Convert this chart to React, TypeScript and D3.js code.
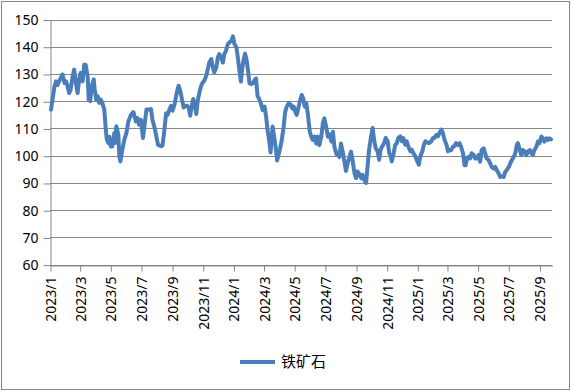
import React, { useEffect, useRef } from "react";
import * as d3 from "d3";

const seriesName = "铁矿石";

const dates2023 = [
  "2023-01-03", "2023-01-06", "2023-01-10", "2023-01-13", "2023-01-16", "2023-01-19", "2023-01-26", "2023-01-30",
  "2023-02-02", "2023-02-05", "2023-02-08", "2023-02-11", "2023-02-15", "2023-02-18", "2023-02-21", "2023-02-25",
  "2023-02-28", "2023-03-03", "2023-03-07", "2023-03-10", "2023-03-13", "2023-03-17", "2023-03-19", "2023-03-22",
  "2023-03-25", "2023-03-29", "2023-03-31", "2023-04-03", "2023-04-06", "2023-04-09", "2023-04-12", "2023-04-15",
  "2023-04-19", "2023-04-22", "2023-04-24", "2023-04-27", "2023-04-29", "2023-05-02", "2023-05-05", "2023-05-09",
  "2023-05-11", "2023-05-13", "2023-05-17", "2023-05-19", "2023-05-21", "2023-05-25", "2023-05-29", "2023-06-02",
  "2023-06-06", "2023-06-11", "2023-06-16", "2023-06-21", "2023-06-24", "2023-06-27", "2023-07-01", "2023-07-05",
  "2023-07-09", "2023-07-12", "2023-07-17", "2023-07-21", "2023-07-24", "2023-07-28", "2023-08-04", "2023-08-10",
  "2023-08-13", "2023-08-17", "2023-08-20", "2023-08-23", "2023-08-27", "2023-08-30", "2023-09-02", "2023-09-06",
  "2023-09-09", "2023-09-12", "2023-09-14", "2023-09-18", "2023-09-21", "2023-09-24", "2023-09-28", "2023-10-01",
  "2023-10-04", "2023-10-07", "2023-10-10", "2023-10-13", "2023-10-16", "2023-10-19", "2023-10-22", "2023-10-26",
  "2023-10-29", "2023-11-01", "2023-11-04", "2023-11-08", "2023-11-11", "2023-11-14", "2023-11-18", "2023-11-21",
  "2023-11-24", "2023-11-28", "2023-12-01", "2023-12-04", "2023-12-07", "2023-12-11", "2023-12-14", "2023-12-17",
  "2023-12-21", "2023-12-24", "2023-12-28", "2023-12-31",
];
const prices2023 = [
  116.9, 120.6, 125.5, 127.3, 126, 127.3, 129.8, 126.7,
  127.3, 125.5, 123, 124.2, 129, 131.6, 127.3, 123,
  128, 130.4, 127.3, 133.4, 133.4, 129, 120.6, 120,
  125.5, 128, 124.2, 120.6, 121.8, 119.4, 120.6, 119.4,
  117, 109.6, 106, 104.7, 107, 103.4, 103.4, 108.3,
  104.7, 110.8, 107.7, 99.8, 97.9, 102.2, 106, 108.3,
  112.6, 115, 116, 112.6, 113.8, 111.4, 113.2, 106.5,
  112.6, 117, 117, 117.1, 113, 110.4, 104, 103.5,
  103.8, 110, 115.6, 115, 117.1, 118.3, 116.5, 119,
  122, 124.5, 125.7, 123.2, 120.2, 117.7, 118.3, 118.3,
  117.7, 114.7, 118.3, 120.8, 118.8, 115.3, 120.2, 123.8,
  125.7, 126.9, 127.5, 129.4, 131.8, 134.2, 135.5, 132.4,
  130.6, 132.4, 136.1, 137.3, 136.5, 134.2, 137.3, 138.5,
  141, 141.6, 142.2, 143.8,
];

const dates2024 = [
  "2024-01-03", "2024-01-07", "2024-01-10", "2024-01-13", "2024-01-16", "2024-01-18", "2024-01-21", "2024-01-24",
  "2024-01-27", "2024-01-30", "2024-02-02", "2024-02-05", "2024-02-09", "2024-02-12", "2024-02-15", "2024-02-18",
  "2024-02-22", "2024-02-25", "2024-02-28", "2024-03-03", "2024-03-06", "2024-03-09", "2024-03-13", "2024-03-15",
  "2024-03-19", "2024-03-21", "2024-03-25", "2024-03-28", "2024-03-31", "2024-04-03", "2024-04-06", "2024-04-10",
  "2024-04-13", "2024-04-16", "2024-04-20", "2024-04-24", "2024-04-27", "2024-04-30", "2024-05-03", "2024-05-06",
  "2024-05-09", "2024-05-13", "2024-05-16", "2024-05-19", "2024-05-22", "2024-05-25", "2024-05-28", "2024-06-01",
  "2024-06-04", "2024-06-07", "2024-06-11", "2024-06-14", "2024-06-17", "2024-06-20", "2024-06-24", "2024-06-27",
  "2024-06-30", "2024-07-04", "2024-07-07", "2024-07-10", "2024-07-14", "2024-07-17", "2024-07-20", "2024-07-24",
  "2024-07-27", "2024-07-30", "2024-08-02", "2024-08-06", "2024-08-09", "2024-08-12", "2024-08-15", "2024-08-19",
  "2024-08-22", "2024-08-25", "2024-08-29", "2024-09-01", "2024-09-04", "2024-09-07", "2024-09-11", "2024-09-14",
  "2024-09-17", "2024-09-21", "2024-09-24", "2024-09-27", "2024-10-01", "2024-10-04", "2024-10-07", "2024-10-10",
  "2024-10-14", "2024-10-17", "2024-10-20", "2024-10-23", "2024-10-27", "2024-10-30", "2024-11-03", "2024-11-06",
  "2024-11-09", "2024-11-11", "2024-11-15", "2024-11-18", "2024-11-21", "2024-11-24", "2024-11-28", "2024-12-01",
  "2024-12-04", "2024-12-08", "2024-12-11", "2024-12-14", "2024-12-18", "2024-12-21", "2024-12-24", "2024-12-28",
];
const prices2024 = [
  141, 139.8, 135.8, 131.2, 127.2, 131.2, 134.9, 137.5,
  135.4, 131.5, 126.6, 126.3, 126.6, 127.8, 128.4, 122,
  120.5, 119, 116.8, 118, 114.5, 109.4, 104.6, 101.2,
  110.7, 108.2, 103.3, 98.2, 100.5, 102.7, 105.5, 110.7,
  116, 118, 119.2, 118.8, 117.4, 118, 116.2, 115,
  117.4, 120.5, 122.3, 121, 118, 119.2, 115.6, 108.8,
  107, 105.8, 107, 104.5, 107, 103.9, 107, 111.9,
  113.7, 110.2, 107, 107.8, 105.2, 108.8, 103.3, 100.6,
  101, 99.5, 104.5, 101, 97.8, 94.4, 97, 99.5,
  101.5, 98.5, 93.6, 91.8, 94.2, 93.5, 91.8, 93,
  91.2, 90, 96.1, 102.2, 107.1, 110.2, 105.9, 102.8,
  101.6, 98.5, 102.2, 103.4, 104.7, 106.5, 105.3, 101,
  99.8, 97.9, 101, 104, 104.5, 106.5, 107.1, 105.3,
  106.5, 104, 105.3, 103.4, 101.6, 102.2, 101, 99.8,
];

const dates2025 = [
  "2025-01-01", "2025-01-04", "2025-01-07", "2025-01-11", "2025-01-14", "2025-01-17", "2025-01-22", "2025-01-25",
  "2025-01-29", "2025-02-01", "2025-02-04", "2025-02-08", "2025-02-11", "2025-02-14", "2025-02-18", "2025-02-21",
  "2025-02-24", "2025-02-28", "2025-03-03", "2025-03-06", "2025-03-09", "2025-03-13", "2025-03-16", "2025-03-19",
  "2025-03-22", "2025-03-26", "2025-03-29", "2025-04-02", "2025-04-05", "2025-04-07", "2025-04-10", "2025-04-13",
  "2025-04-16", "2025-04-19", "2025-04-23", "2025-04-26", "2025-04-29", "2025-05-03", "2025-05-06", "2025-05-09",
  "2025-05-13", "2025-05-16", "2025-05-19", "2025-05-23", "2025-05-26", "2025-05-29", "2025-06-02", "2025-06-05",
  "2025-06-08", "2025-06-12", "2025-06-15", "2025-06-18", "2025-06-22", "2025-06-25", "2025-06-28", "2025-07-02",
  "2025-07-05", "2025-07-08", "2025-07-12", "2025-07-15", "2025-07-18", "2025-07-20", "2025-07-24", "2025-07-27",
  "2025-07-30", "2025-08-03", "2025-08-06", "2025-08-09", "2025-08-13", "2025-08-16", "2025-08-19", "2025-08-22",
  "2025-08-26", "2025-08-29", "2025-09-01", "2025-09-05", "2025-09-08", "2025-09-11", "2025-09-15", "2025-09-18",
  "2025-09-21", "2025-09-24",
];
const prices2025 = [
  97.9, 96.7, 99.8, 101.6, 104, 105.3, 104.7, 104.7,
  105.3, 106.5, 106.5, 107.7, 107.1, 108.3, 109.6, 108.3,
  105.9, 104, 101.6, 102.1, 102, 103.3, 103.5, 104.6,
  104, 104.6, 103.3, 100.9, 96.5, 96.5, 99, 99.6,
  99, 100.9, 100.3, 99, 99, 100.3, 97.8, 102.1,
  102.7, 100.9, 99, 98.4, 97.2, 95.9, 95.3, 95.9,
  94.7, 93.5, 92.2, 92.5, 92.2, 94.1, 94.7, 95.9,
  97.2, 98.4, 99.6, 100.9, 104, 104.6, 102.1, 100.2,
  102.1, 101.5, 100.2, 101.5, 102.1, 100.9, 100.3, 102.1,
  103.3, 105.2, 104.6, 107, 106.4, 105.2, 106.4, 105.8,
  106.4, 106,
];

const yTicks = [60, 70, 80, 90, 100, 110, 120, 130, 140, 150];
const xTickLabels = [
  "2023/1", "2023/3", "2023/5", "2023/7", "2023/9", "2023/11",
  "2024/1", "2024/3", "2024/5", "2024/7", "2024/9", "2024/11",
  "2025/1", "2025/3", "2025/5", "2025/7", "2025/9",
];

const IronOreChart = () => {
  const chartRef = useRef<HTMLDivElement>(null);

  useEffect(() => {
    const parse = d3.timeParse("%Y-%m-%d");
    const parseTick = d3.timeParse("%Y/%m");
    const data = [
      ...dates2023.map((d, i) => ({ date: parse(d), price: prices2023[i] })),
      ...dates2024.map((d, i) => ({ date: parse(d), price: prices2024[i] })),
      ...dates2025.map((d, i) => ({ date: parse(d), price: prices2025[i] })),
    ];

    d3.select(chartRef.current).select("svg").remove(); // Clear old chart

    const width = 571;
    const height = 391;
    const margin = { top: 19.5, right: 19, bottom: 126.3, left: 50 };
    const grey = "#868686";
    const font = "'Noto Sans', 'Liberation Sans', sans-serif";

    const svg = d3
      .select(chartRef.current)
      .append("svg")
      .attr("width", width)
      .attr("height", height)
      .style("display", "block");

    svg
      .append("rect")
      .attr("x", 1.5)
      .attr("y", 1.5)
      .attr("width", 568)
      .attr("height", 388)
      .attr("fill", "#fff")
      .attr("stroke", grey);

    const x = d3
      .scaleTime()
      .domain([new Date(2023, 0, 1), new Date(2025, 8, 26)])
      .range([margin.left, width - margin.right]);
    const y = d3
      .scaleLinear()
      .domain([60, 150])
      .range([height - margin.bottom, margin.top]);

    // gridlines
    svg
      .append("g")
      .selectAll("line")
      .data(yTicks)
      .join("line")
      .attr("x1", margin.left)
      .attr("x2", width - margin.right)
      .attr("y1", (d) => Math.round(y(d)) + 0.5)
      .attr("y2", (d) => Math.round(y(d)) + 0.5)
      .attr("stroke", grey)
      .attr("stroke-width", 1);

    // y axis
    const yAxis = svg
      .append("g")
      .attr("transform", `translate(${margin.left + 0.5},0.5)`)
      .call(d3.axisLeft(y).tickValues(yTicks).tickSize(7).tickSizeOuter(0).tickPadding(5));
    yAxis.select(".domain").attr("stroke", grey);
    yAxis.selectAll(".tick line").attr("stroke", grey);
    yAxis
      .selectAll(".tick text")
      .attr("font-family", font)
      .attr("font-size", 14)
      .attr("fill", "#000");

    // x axis
    const tickDates = xTickLabels.map((t) => parseTick(t));
    const xAxis = svg
      .append("g")
      .attr("transform", `translate(0.5,${Math.round(y(60)) + 0.5})`)
      .call(
        d3
          .axisBottom(x)
          .tickValues(tickDates)
          .tickSize(6)
          .tickSizeOuter(0)
          .tickFormat((d, i) => xTickLabels[i])
      );
    xAxis.select(".domain").attr("stroke", grey);
    xAxis.selectAll(".tick line").attr("stroke", grey);
    xAxis
      .selectAll(".tick text")
      .attr("transform", "rotate(-90)")
      .attr("x", -11)
      .attr("y", 0)
      .attr("dy", "0.36em")
      .attr("text-anchor", "end")
      .attr("font-family", font)
      .attr("font-size", 14)
      .attr("fill", "#000");

    const line = d3
      .line<{ date: Date | null; price: number }>()
      .x((d) => x(d.date as Date))
      .y((d) => y(d.price));

    svg
      .append("path")
      .datum(data)
      .attr("fill", "none")
      .attr("stroke", "#4A7EBB")
      .attr("stroke-width", 4)
      .attr("stroke-linejoin", "round")
      .attr("stroke-linecap", "round")
      .attr("d", line);

    // legend
    const legend = svg.append("g").attr("transform", "translate(240,362)");
    legend
      .append("line")
      .attr("x1", 0)
      .attr("x2", 35)
      .attr("stroke", "#4A7EBB")
      .attr("stroke-width", 4);
    legend
      .append("text")
      .attr("x", 41)
      .attr("dy", "0.35em")
      .attr("font-family", "'Noto Sans CJK SC', sans-serif")
      .attr("font-size", 15)
      .attr("fill", "#000")
      .text(seriesName);
  }, []);

  return <div ref={chartRef} style={{ position: "absolute", left: 0, top: 0 }}></div>;
};

export default function App() {
  return <IronOreChart />;
}
